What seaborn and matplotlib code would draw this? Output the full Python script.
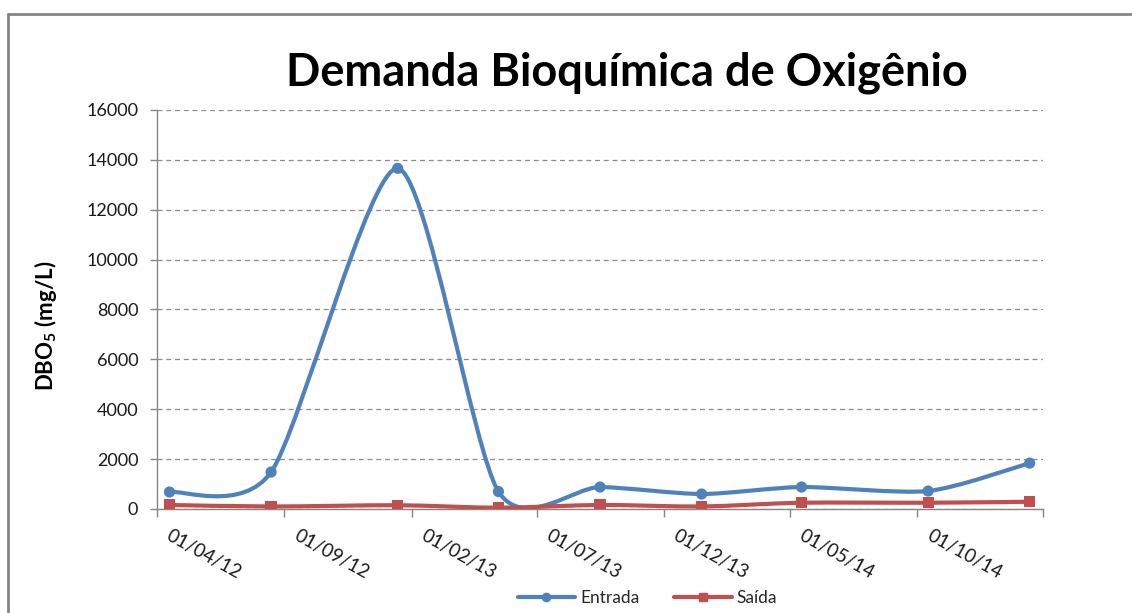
# Demanda Bioquímica de Oxigênio - recriação do gráfico (Entrada x Saída)
import numpy as np
import pandas as pd
import matplotlib
matplotlib.use("Agg")
import matplotlib.pyplot as plt
import matplotlib.dates as mdates
import matplotlib.transforms as mtransforms
from matplotlib.path import Path
from matplotlib.patches import PathPatch
from matplotlib.lines import Line2D
import seaborn as sns

# ---------- DADOS ----------
datas = ["2012-04-16", "2012-08-16", "2013-01-15", "2013-05-16", "2013-09-15",
         "2014-01-15", "2014-05-15", "2014-10-14", "2015-02-13"]
entrada = [680, 1480, 13660, 700, 880, 600, 880, 720, 1840]
saida = [160, 100, 150, 50, 160, 100, 250, 250, 290]

tick_datas = ["2012-04-01", "2012-09-01", "2013-02-01", "2013-07-01",
              "2013-12-01", "2014-05-01", "2014-10-01", "2015-03-01"]
tick_labels = ["01/04/12", "01/09/12", "01/02/13", "01/07/13",
               "01/12/13", "01/05/14", "01/10/14", ""]
y_ticks = [0, 2000, 4000, 6000, 8000, 10000, 12000, 14000, 16000]

titulo = "Demanda Bioquímica de Oxigênio"
rotulo_y = r"DBO$_\mathbf{5}$ (mg/L)"
series = ["Entrada", "Saída"]
cores = ["#4F81BD", "#C0504D"]
marcadores = ["o", "s"]

df = pd.DataFrame({"data": pd.to_datetime(datas), "Entrada": entrada, "Saída": saida})


# curva suavizada estilo Excel (bezier tipo Catmull-Rom)
def curva_suave(x, y, k=1 / 8):
    pts = np.column_stack([x, y]).astype(float)
    p = np.vstack([pts[0], pts, pts[-1]])
    verts = [pts[0]]
    codes = [Path.MOVETO]
    for i in range(1, len(p) - 2):
        c1 = p[i] + (p[i + 1] - p[i - 1]) * k
        c2 = p[i + 1] - (p[i + 2] - p[i]) * k
        verts += [c1, c2, p[i + 1]]
        codes += [Path.CURVE4] * 3
    return Path(verts, codes)


# ---------- ESTILO ----------
sns.set_style("white")
plt.rcParams["font.family"] = ["Lato", "DejaVu Sans"]
plt.rcParams["mathtext.fontset"] = "custom"
plt.rcParams["mathtext.rm"] = "Lato"
plt.rcParams["mathtext.bf"] = "Lato:bold"

fig = plt.figure(figsize=(11.32, 6.13), dpi=100)
ax = fig.add_axes([0.1387, 0.1697, 0.7827, 0.6509])

x_num = mdates.date2num(df["data"])
for nome, cor, mk in zip(series, cores, marcadores):
    path = curva_suave(x_num, df[nome].values)
    ax.add_patch(PathPatch(path, facecolor="none", edgecolor=cor, lw=3, zorder=3,
                           capstyle="round", joinstyle="round"))
    sns.scatterplot(data=df, x="data", y=nome, ax=ax, color=cor, marker=mk,
                    s=65, edgecolor="none", zorder=4, legend=False)

# ---------- EIXOS ----------
ax.set_xlim(mdates.date2num(pd.Timestamp(tick_datas[0])),
            mdates.date2num(pd.Timestamp(tick_datas[-1])))
ax.set_ylim(0, 16000)
ax.set_yticks(y_ticks)
ax.set_xticks(mdates.date2num(pd.to_datetime(tick_datas)))
ax.set_xticklabels(tick_labels)
ax.set_xlabel("")
ax.set_ylabel("")

ax.yaxis.grid(True, linestyle=(0, (4, 3)), color="#8c8c8c", lw=0.9)
ax.set_axisbelow(True)
for s in ["top", "right"]:
    ax.spines[s].set_visible(False)
for s in ["left", "bottom"]:
    ax.spines[s].set_color("#868686")
    ax.spines[s].set_linewidth(1)

ax.tick_params(axis="y", length=5, width=1, color="#868686", pad=8.5,
               labelsize=13, labelcolor="#1a1a1a", left=True)
ax.tick_params(axis="x", length=6, width=1, color="#868686", pad=7,
               labelsize=13.5, labelcolor="#1a1a1a", bottom=True)

desloc = mtransforms.ScaledTranslation(0.15, 0, fig.dpi_scale_trans)
for lbl in ax.get_xticklabels():
    lbl.set_rotation(-29)
    lbl.set_rotation_mode("anchor")
    lbl.set_ha("left")
    lbl.set_va("top")
    lbl.set_transform(lbl.get_transform() + desloc)

fig.text(0.0398, 0.468, rotulo_y, rotation=90, ha="center", va="center",
         fontsize=16, fontweight="bold", color="black")

fig.text(0.554, 0.882, titulo, ha="center", va="center",
         fontsize=32.5, fontweight="bold", color="black")

# ---------- LEGENDA ----------
handles = [Line2D([], [], color=c, lw=3, marker=m, markersize=6) for c, m in zip(cores, marcadores)]
fig.legend(handles, series, loc="center", bbox_to_anchor=(0.572, 0.024), ncol=2,
           frameon=False, fontsize=12.5, handlelength=3.3, columnspacing=2.0,
           handletextpad=0.3, labelcolor="#262626")

# moldura cinza (topo e esquerda)
fig.add_artist(Line2D([0.0075, 1.0], [0.977, 0.977], transform=fig.transFigure,
                      color="#858585", lw=2))
fig.add_artist(Line2D([0.0075, 0.0075], [0.0, 0.977], transform=fig.transFigure,
                      color="#858585", lw=2))

fig.savefig("out.png", dpi=100)
